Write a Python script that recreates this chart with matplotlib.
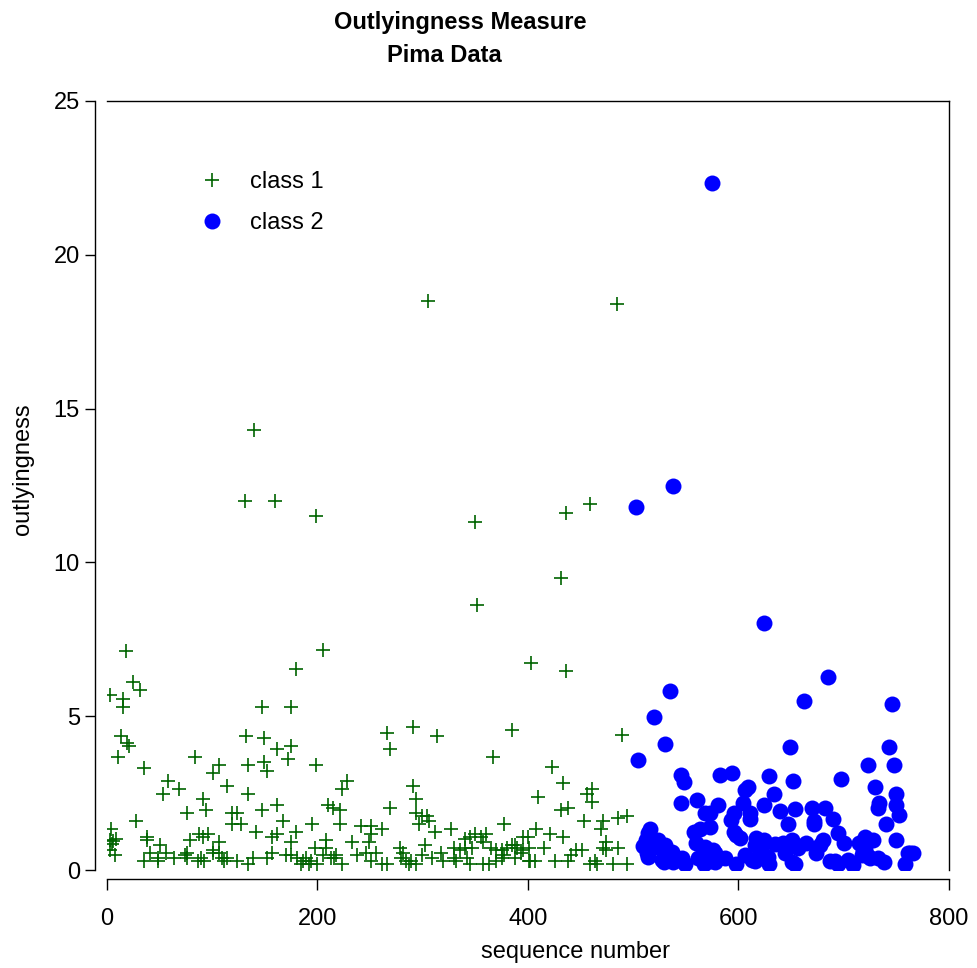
import matplotlib.pyplot as plt

plt.rcParams['font.family'] = ['Liberation Sans', 'DejaVu Sans']

# class 1 (sequence number, outlyingness)
class1_x = [3, 4, 3, 3, 5, 6, 8, 9, 10, 13, 15, 15, 18, 19, 21, 25, 28, 31, 35, 35,
            38, 38, 41, 48, 48, 50, 53, 56, 58, 64, 68, 74, 76, 76, 76, 79, 84, 86, 87, 89,
            91, 91, 92, 94, 96, 101, 101, 101, 106, 106, 106, 109, 111, 114, 114, 119, 119, 124, 124, 127,
            131, 132, 134, 134, 134, 139, 140, 142, 147, 147, 149, 149, 152, 152, 157, 157, 160, 162, 162, 162,
            167, 170, 172, 175, 175, 175, 175, 180, 180, 181, 184, 186, 189, 192, 194, 195, 198, 199, 199, 200,
            205, 205, 208, 208, 210, 213, 215, 216, 218, 221, 221, 223, 223, 228, 233, 238, 241, 246, 249, 251,
            251, 251, 256, 261, 261, 266, 266, 269, 269, 278, 279, 281, 284, 287, 289, 291, 291, 294, 294, 294,
            296, 299, 299, 302, 304, 305, 306, 309, 312, 314, 317, 319, 327, 330, 330, 332, 335, 340, 340, 342,
            345, 345, 347, 350, 350, 352, 355, 357, 357, 360, 363, 365, 367, 370, 370, 375, 375, 377, 377, 380,
            385, 385, 388, 388, 390, 393, 395, 395, 400, 401, 401, 402, 403, 407, 408, 410, 415, 421, 423, 426,
            431, 431, 433, 433, 436, 436, 438, 438, 441, 446, 451, 453, 456, 459, 459, 461, 461, 464, 466, 469,
            471, 471, 474, 474, 481, 485, 486, 486, 489, 494, 494]
class1_y = [5.68, 1.34, 0.99, 0.65, 0.86, 0.94, 0.48, 1.00, 3.68, 4.37, 5.57, 5.31, 7.13, 4.12, 4.03, 6.11, 1.60, 5.85, 3.33, 0.30,
            1.08, 0.99, 0.56, 0.39, 0.30, 0.82, 2.47, 0.56, 2.90, 0.39, 2.64, 0.48, 0.56, 0.39, 1.86, 0.99, 3.68, 0.30, 1.17, 0.39,
            2.30, 1.08, 0.30, 1.95, 1.17, 3.16, 0.65, 0.56, 3.42, 0.91, 0.56, 0.39, 0.30, 2.73, 0.39, 1.86, 1.51, 1.86, 0.30, 1.51,
            12.0, 4.37, 3.42, 2.47, 0.21, 0.39, 14.3, 1.25, 5.31, 1.95, 4.29, 3.51, 3.23, 0.39, 1.08, 0.56, 12.0, 3.94, 2.12, 1.17,
            1.60, 0.48, 3.60, 5.31, 4.03, 0.91, 0.48, 6.53, 1.25, 0.39, 0.21, 0.30, 0.39, 0.21, 0.30, 1.51, 0.73, 11.5, 3.42, 0.21,
            7.15, 0.48, 0.99, 0.73, 2.12, 0.39, 2.03, 0.39, 0.48, 1.95, 1.51, 2.64, 0.21, 2.90, 0.91, 0.48, 1.43, 0.56, 0.91, 1.43,
            1.17, 0.30, 0.56, 1.34, 0.21, 4.46, 0.21, 3.94, 2.03, 0.73, 0.39, 0.56, 0.30, 0.21, 0.30, 4.64, 2.73, 2.30, 1.86, 0.21,
            1.51, 1.77, 0.48, 0.82, 1.77, 18.5, 1.60, 0.39, 1.25, 4.37, 0.56, 0.30, 1.34, 0.73, 0.39, 0.30, 0.65, 1.00, 0.73, 0.39,
            1.08, 0.21, 0.73, 11.3, 1.17, 8.60, 1.08, 0.91, 0.21, 1.17, 0.21, 0.73, 3.68, 0.65, 0.30, 0.65, 0.39, 0.48, 1.51, 0.73,
            4.55, 0.82, 0.82, 0.39, 0.73, 0.56, 1.08, 0.65, 1.08, 0.73, 0.30, 0.30, 6.72, 0.30, 1.34, 2.38, 0.73, 1.17, 3.34, 0.30,
            1.95, 9.50, 2.82, 1.08, 11.6, 6.46, 2.03, 0.30, 0.48, 0.65, 0.65, 1.60, 2.47, 0.21, 11.9, 2.64, 2.21, 0.30, 0.21, 1.34,
            1.60, 0.73, 0.91, 0.65, 0.21, 18.4, 1.69, 0.73, 4.38, 1.77, 0.21]

# class 2
class2_x = [503, 505, 509, 511, 512, 513, 514, 514, 516, 520, 522, 524, 527, 528, 529, 530, 530, 533, 535, 537,
            538, 538, 540, 545, 545, 546, 548, 549, 558, 560, 561, 562, 563, 563, 567, 568, 568, 573, 573, 574,
            575, 576, 578, 578, 579, 581, 582, 587, 593, 594, 596, 596, 598, 598, 601, 604, 606, 609, 606, 611,
            611, 613, 616, 616, 617, 620, 621, 624, 624, 624, 626, 628, 629, 629, 634, 635, 639, 642, 644, 647,
            649, 651, 651, 652, 654, 654, 657, 662, 664, 670, 672, 672, 674, 677, 680, 682, 685, 687, 690, 692,
            695, 695, 697, 700, 704, 709, 715, 717, 718, 720, 720, 723, 723, 725, 728, 730, 733, 733, 734, 738,
            740, 743, 746, 748, 750, 750, 750, 753, 758, 761, 763, 766]
class2_y = [11.8, 3.58, 0.78, 0.76, 0.98, 0.54, 1.19, 0.43, 1.35, 4.96, 0.76, 0.98, 0.33, 0.76, 0.27, 4.10, 0.81, 0.60, 5.83, 0.60,
            12.48, 0.27, 0.33, 3.08, 2.19, 0.38, 2.86, 0.21, 1.24, 0.89, 2.28, 0.38, 1.32, 0.38, 0.21, 1.84, 0.76, 1.84, 1.41, 0.28,
            22.33, 0.65, 0.27, 0.54, 0.33, 2.11, 3.08, 0.38, 1.63, 3.14, 1.84, 1.24, 1.14, 0.21, 1.03, 2.19, 2.60, 2.71, 0.49, 1.84,
            1.67, 0.33, 0.81, 0.28, 1.03, 0.60, 0.72, 2.11, 0.98, 8.04, 0.46, 0.43, 3.05, 0.19, 2.47, 0.86, 1.93, 0.89, 0.54, 1.51,
            4.01, 0.98, 0.27, 2.88, 2.00, 0.19, 0.72, 5.48, 0.89, 2.02, 1.58, 1.49, 0.54, 0.80, 0.98, 2.02, 6.26, 0.28, 1.67, 0.28,
            1.19, 0.21, 2.97, 0.89, 0.33, 0.16, 0.89, 0.49, 0.63, 1.06, 0.70, 3.40, 0.46, 0.38, 0.98, 2.71, 2.02, 0.38, 2.17, 0.27,
            1.51, 4.01, 5.40, 3.40, 2.47, 2.11, 0.98, 1.79, 0.21, 0.54, 0.54, 0.54]

x_ticks = [0, 200, 400, 600, 800]
y_ticks = [0, 5, 10, 15, 20, 25]

fig = plt.figure(figsize=(9.78, 9.68), dpi=100)
ax = fig.add_axes([0.1094, 0.1012, 0.8609, 0.7945])

ax.plot(class1_x, class1_y, linestyle='none', marker='+', markersize=10,
        markeredgewidth=1.2, color='#006400', label='class 1')
ax.plot(class2_x, class2_y, linestyle='none', marker='o', markersize=11.5,
        markeredgewidth=0, color='#0000ff', label='class 2')

ax.set_xlim(0, 800)
ax.set_ylim(0, 25)
ax.set_xticks(x_ticks)
ax.set_yticks(y_ticks)

# detached S-Plus style axes
ax.spines['left'].set_position(('outward', 8.6))
ax.spines['bottom'].set_position(('outward', 6.5))
for s in ax.spines.values():
    s.set_linewidth(1.0)
ax.tick_params(axis='y', direction='out', length=7, width=1, labelsize=17, pad=4)
ax.tick_params(axis='x', direction='out', length=8, width=1, labelsize=17, pad=13)

ax.set_xlabel('sequence number', fontsize=17)
ax.set_ylabel('outlyingness', fontsize=17)
ax.xaxis.set_label_coords(0.556, -0.092)
ax.yaxis.set_label_coords(-0.087, 0.521)

ax.legend(loc='upper left', bbox_to_anchor=(0.099, 0.921), frameon=False,
          fontsize=17, handlelength=1.0, handletextpad=1.13, labelspacing=0.8,
          borderpad=0.4, borderaxespad=0)

fig.text(0.471, 1 - 22 / 968, 'Outlyingness Measure', ha='center', va='center',
         fontsize=17, fontweight='bold')
fig.text(0.454, 1 - 55 / 968, 'Pima Data', ha='center', va='center',
         fontsize=17, fontweight='bold')

fig.savefig('out.png', dpi=100)
